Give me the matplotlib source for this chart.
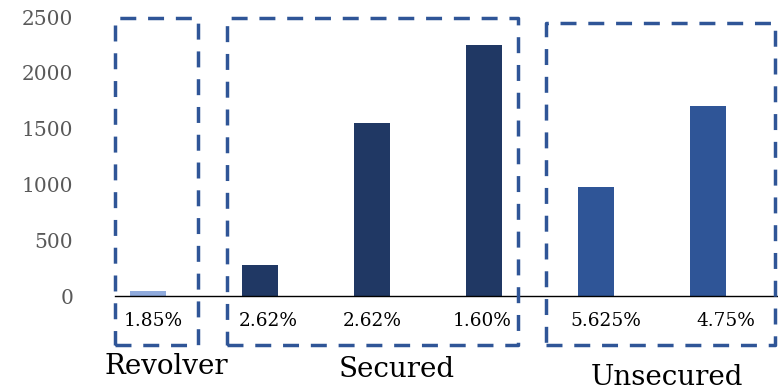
import matplotlib.pyplot as plt
from matplotlib.patches import Rectangle

# loan amounts by facility, with the rate printed under each bar
amounts = [45, 275, 1550, 2250, 980, 1700]
rates = ["1.85%", "2.62%", "2.62%", "1.60%", "5.625%", "4.75%"]
groups = ["Revolver", "Secured", "Secured", "Secured", "Unsecured", "Unsecured"]
group_names = ["Revolver", "Secured", "Unsecured"]
yticks = [0, 500, 1000, 1500, 2000, 2500]

colors = {"Revolver": "#8FAADC", "Secured": "#203864", "Unsecured": "#2F5597"}
box_color = "#2F5597"
serif = "DejaVu Serif"

fig = plt.figure(figsize=(7.78, 3.91), dpi=100)
ax = fig.add_axes([115 / 778, 95 / 391, 663 / 778, 279 / 391])

x = list(range(len(amounts)))
ax.bar(x, amounts, width=0.32, color=[colors[g] for g in groups], zorder=2)

ax.set_xlim(-0.295, 5.625)
ax.set_ylim(0, 2500)
ax.set_yticks(yticks)
ax.set_yticklabels([str(t) for t in yticks], family=serif, fontsize=14.5, color="#595959")
ax.tick_params(axis="y", length=0, pad=30)
ax.set_xticks([])
for side in ["top", "right", "left"]:
    ax.spines[side].set_visible(False)
ax.spines["bottom"].set_linewidth(1.0)
ax.spines["bottom"].set_color("black")

# rates below the axis line
rate_shift = [0.05, 0.07, 0.0, -0.02, 0.09, 0.16]
for xi, r, dx in zip(x, rates, rate_shift):
    ax.text(xi + dx, -225, r, ha="center", va="center", family=serif,
            fontsize=13.3, color="black", clip_on=False)

# dashed boxes around each group
boxes = {
    "Revolver": (-0.295, 0.446, -440, 2491),
    "Secured": (0.705, 3.30, -440, 2491),
    "Unsecured": (3.55, 5.60, -440, 2446),
}
for name in group_names:
    x0, x1, y0, y1 = boxes[name]
    ax.add_patch(Rectangle((x0, y0), x1 - x0, y1 - y0, fill=False,
                           edgecolor=box_color, lw=2.5, linestyle=(0, (4.6, 3.4)),
                           joinstyle="round", clip_on=False, zorder=3))

label_pos = {"Revolver": (0.16, -634), "Secured": (2.22, -661), "Unsecured": (4.63, -732)}
for name in group_names:
    lx, ly = label_pos[name]
    ax.text(lx, ly, name, ha="center", va="center", family=serif,
            fontsize=20, color="black", clip_on=False)

fig.savefig("out.png", dpi=100)
